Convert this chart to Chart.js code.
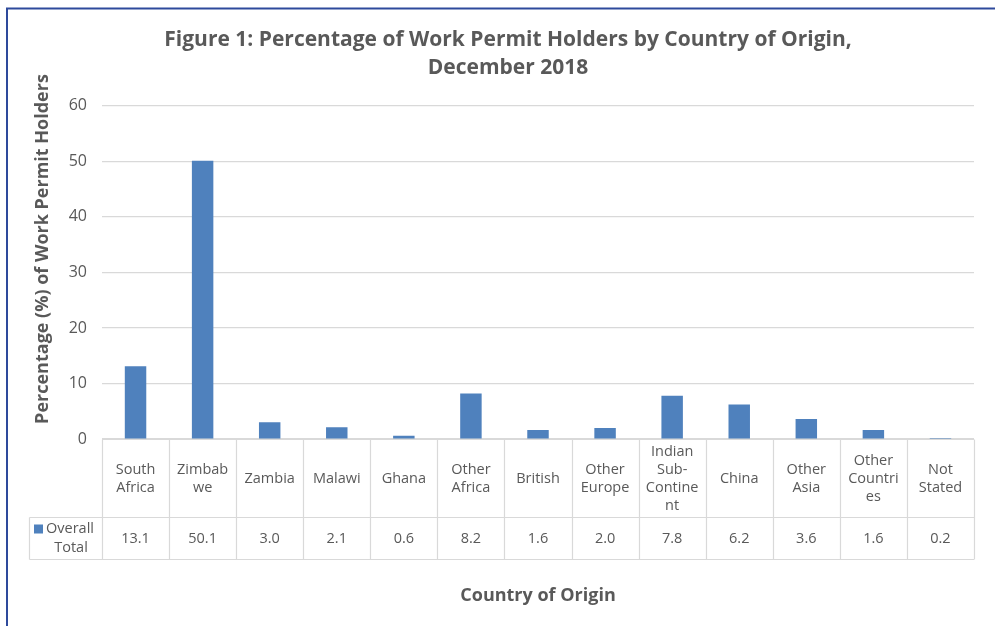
<!DOCTYPE html>
<html><head><meta charset="utf-8">
<script src="https://cdn.jsdelivr.net/npm/chart.js@4/dist/chart.umd.min.js"></script>
<style>html,body{margin:0;padding:0;background:#fff;overflow:hidden}#wrap{position:relative;width:995px;height:626px}canvas{display:block}</style>
</head><body><div id="wrap"><canvas id="c" width="995" height="626"></canvas></div>
<script>
const titleLines = ['Figure 1: Percentage of Work Permit Holders by Country of Origin,', 'December 2018'];
const categories = [['South','Africa'],['Zimbab','we'],['Zambia'],['Malawi'],['Ghana'],['Other','Africa'],['British'],['Other','Europe'],['Indian','Sub-','Contine','nt'],['China'],['Other','Asia'],['Other','Countri','es'],['Not','Stated']];
const seriesName = 'Overall Total';
const values = [13.1, 50.1, 3.0, 2.1, 0.6, 8.2, 1.6, 2.0, 7.8, 6.2, 3.6, 1.6, 0.2];
const yTicks = [0, 10, 20, 30, 40, 50, 60];
const xTitle = 'Country of Origin';
const yTitle = 'Percentage (%) of Work Permit Holders';

const FONT = '"Open Sans", Lato, sans-serif';
const TXT = '#595959';
const GRID = '#D9D9D9';
const BAR = '#4F81BD';

const tablePlugin = {
  id: 'tablePlugin',
  afterDraw(chart) {
    const ctx = chart.ctx;
    const xs = chart.scales.x;
    const a = chart.chartArea;
    const n = chart.data.labels.length;
    const step = xs.getPixelForValue(1) - xs.getPixelForValue(0);
    const top = Math.round(a.bottom) + 0.5;
    const hdrBot = top + 78;
    const valBot = hdrBot + 42;
    const legLeft = 29.5;
    ctx.save();
    ctx.strokeStyle = GRID;
    ctx.lineWidth = 1.2;
    ctx.beginPath();
    ctx.moveTo(a.left, top); ctx.lineTo(a.right, top);
    ctx.moveTo(legLeft, hdrBot); ctx.lineTo(a.right, hdrBot);
    ctx.moveTo(legLeft, valBot); ctx.lineTo(a.right, valBot);
    for (let i = 0; i <= n; i++) {
      const x = Math.round(xs.getPixelForValue(i) - step / 2) + 0.5;
      ctx.moveTo(x, top); ctx.lineTo(x, valBot);
    }
    ctx.moveTo(legLeft, hdrBot); ctx.lineTo(legLeft, valBot);
    ctx.stroke();

    ctx.fillStyle = TXT;
    ctx.font = '14.5px ' + FONT;
    ctx.textAlign = 'center';
    ctx.textBaseline = 'middle';
    const lh = 18;
    const hdrMid = (top + hdrBot) / 2;
    const valMid = (hdrBot + valBot) / 2;
    const ds = chart.data.datasets[0];
    chart.data.labels.forEach((lab, i) => {
      const lines = Array.isArray(lab) ? lab : [lab];
      const cx = xs.getPixelForValue(i);
      const y0 = hdrMid - (lines.length - 1) * lh / 2;
      lines.forEach((t, k) => ctx.fillText(t, cx, y0 + k * lh));
      ctx.fillText(ds.data[i].toFixed(1), cx, valMid);
    });
    // legend cell
    const words = ds.label.split(' ');
    ctx.fillStyle = BAR;
    ctx.fillRect(34, valMid - 14, 9, 9);
    ctx.fillStyle = TXT;
    ctx.textAlign = 'left';
    ctx.fillText(words[0], 46, valMid - 10);
    ctx.textAlign = 'center';
    ctx.fillText(words.slice(1).join(' '), 71, valMid + 9);

    // y-axis title
    ctx.save();
    ctx.translate(43, 249);
    ctx.rotate(-Math.PI / 2);
    ctx.font = 'bold 18px ' + FONT;
    ctx.fillStyle = TXT;
    ctx.textAlign = 'center';
    ctx.textBaseline = 'middle';
    ctx.fillText(yTitle, 0, 0);
    ctx.restore();

    // frame
    ctx.strokeStyle = '#2E4A9C';
    ctx.lineWidth = 2;
    ctx.beginPath();
    ctx.moveTo(7, chart.height); ctx.lineTo(7, 8.5); ctx.lineTo(chart.width, 8.5);
    ctx.stroke();
    ctx.restore();
  }
};

const bgPlugin = {
  id: 'bg',
  beforeDraw(chart) {
    const ctx = chart.ctx;
    ctx.save(); ctx.fillStyle = '#fff'; ctx.fillRect(0, 0, chart.width, chart.height); ctx.restore();
  }
};

new Chart(document.getElementById('c'), {
  type: 'bar',
  data: {
    labels: categories,
    datasets: [{ label: seriesName, data: values, backgroundColor: BAR, borderWidth: 0, barPercentage: 0.32, categoryPercentage: 1 }]
  },
  options: {
    responsive: false,
    animation: false,
    devicePixelRatio: 1,
    layout: { padding: { left: 42, right: 21, top: 0, bottom: 0 } },
    plugins: {
      legend: { display: false },
      tooltip: { enabled: false },
      title: {
        display: true, text: titleLines, color: TXT,
        font: { family: FONT, size: 21, weight: 'bold', lineHeight: 1.33 },
        padding: { top: 26, bottom: 24 }
      }
    },
    scales: {
      x: {
        ticks: { display: false },
        grid: { display: false, drawTicks: false },
        border: { display: false },
        title: { display: true, text: xTitle, color: TXT, font: { family: FONT, size: 18, weight: 'bold' }, padding: { top: 0, bottom: 19 } },
        afterFit(s) { s.height = 187; }
      },
      y: {
        min: yTicks[0], max: yTicks[yTicks.length - 1],
        afterBuildTicks(s) { s.ticks = yTicks.map(v => ({ value: v })); },
        ticks: { color: TXT, font: { family: FONT, size: 16 }, padding: 15 },
        grid: { color: GRID, lineWidth: 1.2, drawTicks: false },
        border: { display: false },
        afterFit(s) { s.width = 60; }
      }
    }
  },
  plugins: [bgPlugin, tablePlugin]
});
</script>
</body></html>
